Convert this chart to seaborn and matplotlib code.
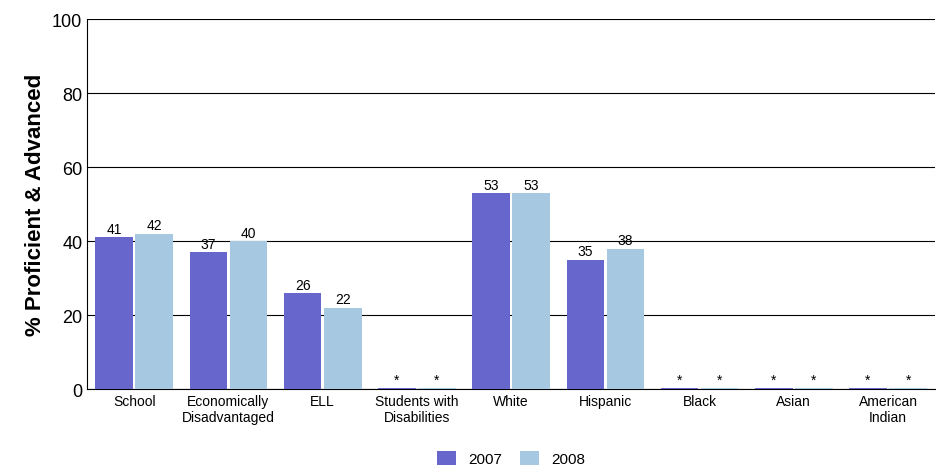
import numpy as np
import pandas as pd
import seaborn as sns
import matplotlib.pyplot as plt

categories = ['School', 'Economically\nDisadvantaged', 'ELL', 'Students with\nDisabilities',
              'White', 'Hispanic', 'Black', 'Asian', 'American\nIndian']
vals_2007 = [41, 37, 26, 0.3, 53, 35, 0.3, 0.3, 0.3]
vals_2008 = [42, 40, 22, 0.3, 53, 38, 0.3, 0.3, 0.3]
labels_2007 = ['41', '37', '26', '*', '53', '35', '*', '*', '*']
labels_2008 = ['42', '40', '22', '*', '53', '38', '*', '*', '*']

df = pd.DataFrame({
    'group': categories * 2,
    'value': vals_2007 + vals_2008,
    'year': ['2007'] * 9 + ['2008'] * 9,
})

sns.set_style('white')
plt.rcParams['font.family'] = ['Liberation Sans', 'DejaVu Sans']
plt.rcParams['text.color'] = 'black'
plt.rcParams['xtick.color'] = 'black'
plt.rcParams['ytick.color'] = 'black'
plt.rcParams['axes.labelcolor'] = 'black'

fig = plt.figure(figsize=(9.37, 4.77), dpi=100)
ax = fig.add_axes([0.093, 0.182, 0.905, 0.776])
sns.barplot(data=df, x='group', y='value', hue='year',
            palette=['#6666CC', '#A6C8E0'], width=0.85, gap=0.06,
            saturation=1, linewidth=0, ax=ax, zorder=3)

for cont, labs in zip(ax.containers, [labels_2007, labels_2008]):
    ax.bar_label(cont, labels=labs, fontsize=10, padding=1)

ax.set_ylim(0, 100)
ax.set_yticks(range(0, 101, 20))
ax.yaxis.grid(True, color='black', linewidth=0.8, zorder=0)
ax.set_xlim(-0.5, 8.5)
ax.set_xlabel('')
ax.set_ylabel('% Proficient & Advanced', fontsize=16, fontweight='bold')
ax.tick_params(axis='y', labelsize=13, length=0)
ax.tick_params(axis='x', labelsize=10, length=0)
for s in ['top', 'right']:
    ax.spines[s].set_visible(False)
ax.spines['left'].set_color('black')
ax.spines['bottom'].set_color('black')

ax.legend(loc='upper center', bbox_to_anchor=(0.5, -0.13), ncol=2, frameon=False,
          fontsize=11, handlelength=1.2, handleheight=1.0, columnspacing=1.2)

fig.savefig('out.png', dpi=100)
